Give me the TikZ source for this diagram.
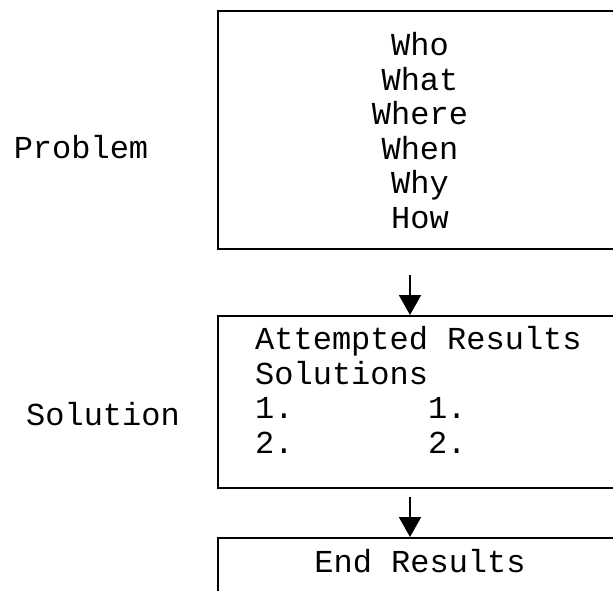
\documentclass[tikz,border=0pt]{standalone}
\usepackage{fontspec}
\setmainfont{Liberation Mono}
\usetikzlibrary{arrows.meta}
\tikzset{%
	frame/.style   	= {draw, line width = 2.4pt, rectangle, minimum width = 406pt, anchor = north west, inner sep = 0pt}, % Box
	words/.style   	= {font = \fontsize{32}{34.5}\selectfont, inner sep = 0pt}, % Text
	flow/.style    	= {line width = 2pt, -{Triangle[length = 20pt, width = 22pt]}} % Arrow
}

\begin{document}
\begin{tikzpicture}[x=1pt, y=-1pt]
	\useasboundingbox (0,0) rectangle (613,590);
	\clip (0,0) rectangle (613,590);

	% Boxes, cut off at the right and at the bottom
	\node [frame, minimum height = 238pt] (problem) at (217,10) {};
	\node [frame, minimum height = 172pt] (solution) at (217,315) {};
	\node [frame, minimum height = 80pt] (endbox) at (217,537) {};

	% Texts (base is the baseline of the last line)
	\node [words, anchor = base] (problemtag) at (81,158) {Problem};
	\node [words, anchor = base] (solutiontag) at (103,425) {Solution};
	\node [words, align = center, anchor = base] (questions) at (420,228)
		{Who\\What\\Where\\When\\Why\\How};
	\node [words, align = left, anchor = base west] (attempts) at (255,453)
		{Attempted Results\\Solutions\\1.\ \ \ \ \ \ \ 1.\\2.\ \ \ \ \ \ \ 2.};
	\node [words, anchor = base] (endresults) at (420,572) {End Results};

	% Arrows
	\coordinate (down1) at (410,275);
	\coordinate (down2) at (410,497);
	\draw [flow] (down1) -- (down1 |- solution.north);
	\draw [flow] (down2) -- (down2 |- endbox.north);
\end{tikzpicture}
\end{document}
